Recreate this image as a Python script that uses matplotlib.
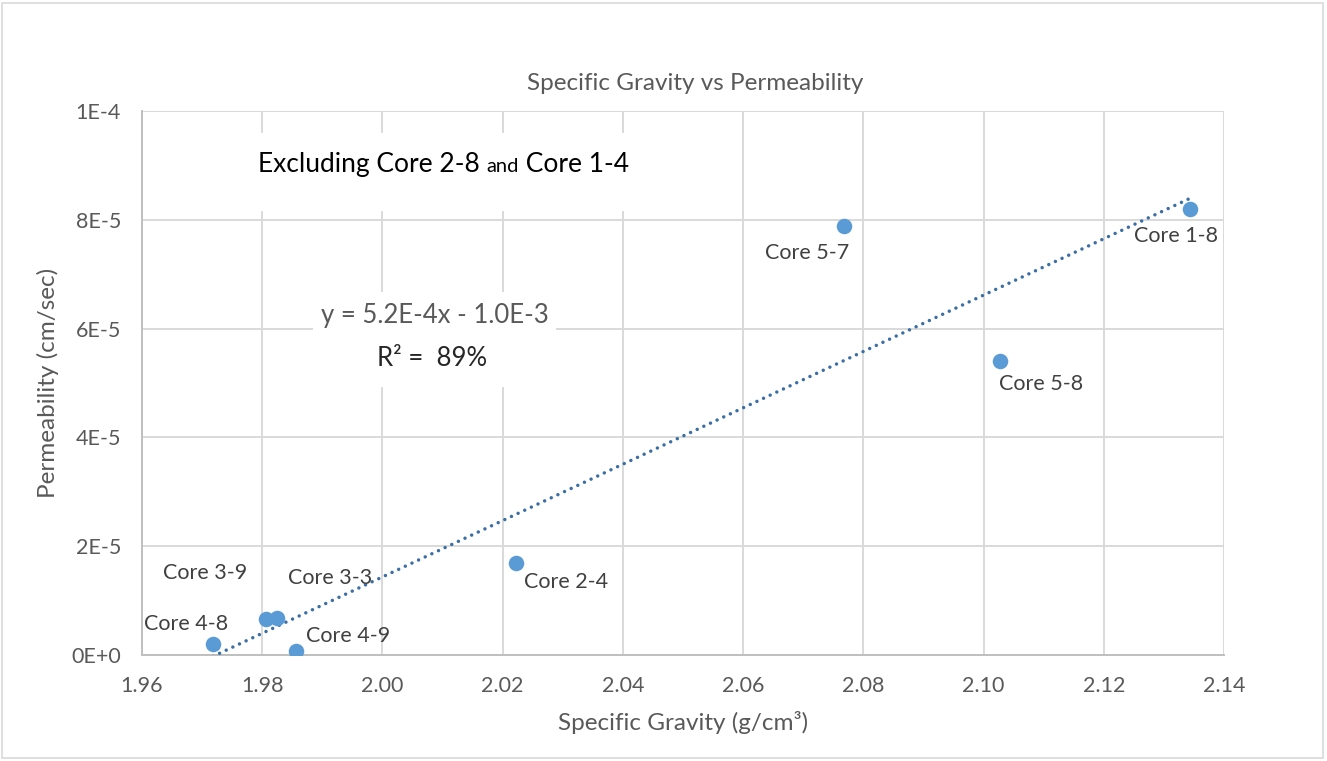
import matplotlib.pyplot as plt
from matplotlib.patches import Rectangle
from matplotlib.ticker import FuncFormatter
import numpy as np

plt.rcParams['font.family'] = ['Lato', 'DejaVu Sans']

# data
cores = ['Core 4-8', 'Core 3-9', 'Core 3-3', 'Core 4-9', 'Core 2-4', 'Core 5-7', 'Core 5-8', 'Core 1-8']
sg = [1.9718, 1.9807, 1.9825, 1.9857, 2.0223, 2.0768, 2.1028, 2.1343]
perm = [2.0e-6, 6.6e-6, 6.8e-6, 7.0e-7, 1.69e-5, 7.89e-5, 5.40e-5, 8.20e-5]

# label offsets in pixels (placement only)
offsets = [(-27, 20), (-61, 46), (53, 40), (52, 15), (50, -19), (-37, -27), (41, -23), (-14, -27)]

W, H = 1327, 761
fig = plt.figure(figsize=(W / 100, H / 100), dpi=100)
ax = fig.add_axes([142 / W, 1 - 655 / H, (1224 - 142) / W, (655 - 111) / H])

grid_c = '#d9d9d9'
txt_c = '#595959'

ax.set_xlim(1.96, 2.14)
ax.set_ylim(0, 1e-4)
ax.set_xticks(np.arange(1.96, 2.1401, 0.02))
ax.set_yticks(np.arange(0, 1.01e-4, 2e-5))


def sci(v, pos):
    if v == 0:
        return '0E+0'
    e = int(np.floor(np.log10(abs(v)) + 1e-9))
    m = v / 10 ** e
    return '%dE%d' % (round(m), e)


ax.yaxis.set_major_formatter(FuncFormatter(sci))
ax.xaxis.set_major_formatter(FuncFormatter(lambda v, p: '%.2f' % v))
ax.tick_params(length=0, labelsize=15.5, labelcolor=txt_c, pad=15)
ax.grid(True, color=grid_c, lw=1.4, zorder=0)
ax.set_axisbelow(True)
for s in ['top', 'right']:
    ax.spines[s].set_visible(False)
for s in ['left', 'bottom']:
    ax.spines[s].set_color('#bfbfbf')
    ax.spines[s].set_linewidth(1.4)

# white boxes that hide the grid behind the text blocks
ax.add_patch(Rectangle(((245 - 142) / 1082, (655 - 211) / 544), 405 / 1082, 78 / 544,
                       transform=ax.transAxes, facecolor='white', edgecolor='none', zorder=1))
ax.add_patch(Rectangle(((313 - 142) / 1082, (655 - 387) / 544), 243 / 1082, 95 / 544,
                       transform=ax.transAxes, facecolor='white', edgecolor='none', zorder=1))

# trendline
slope, inter = np.polyfit(sg, perm, 1)
fit = np.polyval([slope, inter], sg)
r2 = 1 - np.sum((np.array(perm) - fit) ** 2) / np.sum((np.array(perm) - np.mean(perm)) ** 2)
xs = np.array([min(sg), max(sg)])
ax.plot(xs, slope * xs + inter, color='#3b6ea5', lw=2.5, linestyle=(0, (0.01, 2.1)),
        dash_capstyle='round', zorder=3)

ax.scatter(sg, perm, s=125, color='#5b9bd5', zorder=4, linewidths=0)
for name, x, y, off in zip(cores, sg, perm, offsets):
    ax.annotate(name, (x, y), xytext=off, textcoords='offset pixels', ha='center', va='center',
                fontsize=15.5, color='#404040', zorder=5)

# equation and r squared
ax.text((435 - 142) / 1082, (655 - 316) / 544, 'y = 5.2E-4x - 1.0E-3', transform=ax.transAxes,
        ha='center', va='center', fontsize=18.5, color=txt_c, zorder=5)
ax.text((432 - 142) / 1082, (655 - 358) / 544, 'R\u00b2 =  %d%%' % round(r2 * 100),
        transform=ax.transAxes, ha='center', va='center', fontsize=18.5, color='#262626', zorder=5)

# note text with a smaller "and", all on one baseline
y0 = (655 - 172) / 544
t1 = ax.text((258 - 142) / 1082, y0, 'Excluding Core 2-8 ', transform=ax.transAxes,
             ha='left', va='baseline', fontsize=19, color='black', zorder=5)
t2 = ax.annotate('and', xy=(1, y0), xycoords=(t1, 'axes fraction'), ha='left', va='baseline',
                 fontsize=14.5, color='black', zorder=5)
ax.annotate(' Core 1-4', xy=(1, y0), xycoords=(t2, 'axes fraction'), ha='left', va='baseline',
            fontsize=19, color='black', zorder=5)

fig.text(695 / W, 1 - 83 / H, 'Specific Gravity vs Permeability', ha='center', va='center',
         fontsize=17.5, color=txt_c)
ax.set_xlabel('Specific Gravity (g/cm\u00b3)', fontsize=17.5, color=txt_c)
ax.xaxis.set_label_coords((683 - 142) / 1082, (655 - 722) / 544)
ax.xaxis.label.set_va('center')
ax.set_ylabel('Permeability (cm/sec)', fontsize=17.5, color=txt_c)
ax.yaxis.set_label_coords((48 - 142) / 1082, 0.5)
ax.yaxis.label.set_va('center')

fig.add_artist(Rectangle((2 / W, 3 / H), 1321 / W, 755 / H, transform=fig.transFigure,
                         facecolor='none', edgecolor=grid_c, lw=1.2))

fig.savefig('out.png', dpi=100)
